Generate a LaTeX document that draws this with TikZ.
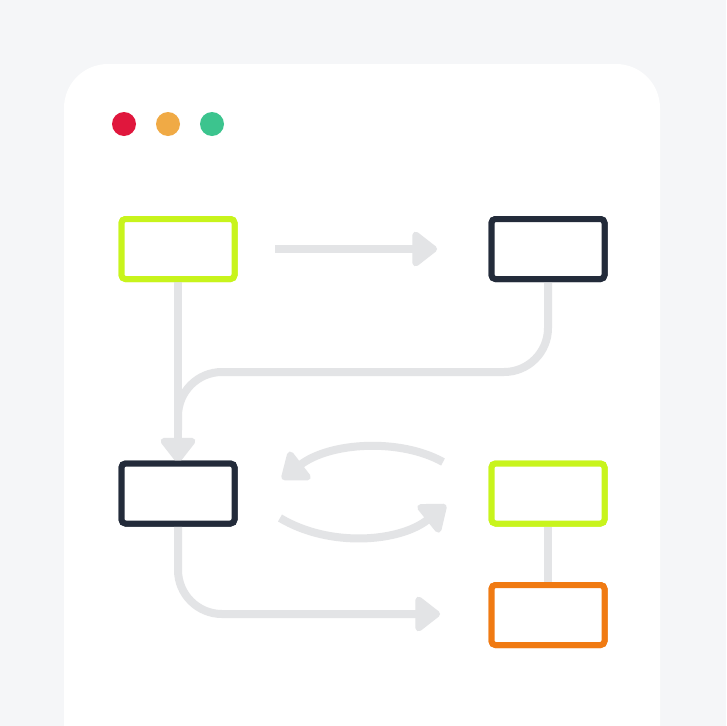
\documentclass[tikz,border=0pt]{standalone}
\usetikzlibrary{arrows.meta}
\definecolor{bg}{HTML}{F5F6F8}
\definecolor{lime}{HTML}{C8F41C}
\definecolor{darkbox}{HTML}{232B3A}
\definecolor{orangebox}{HTML}{F07A12}
\definecolor{conn}{HTML}{E3E4E6}
\definecolor{dotred}{HTML}{E0173D}
\definecolor{dotorange}{HTML}{F0AA45}
\definecolor{dotgreen}{HTML}{3CC48E}
\tikzset{
  box/.style={draw, line width=6pt, rounded corners=4pt, minimum width=113pt, minimum height=60pt, inner sep=0pt, fill=white},
  wire/.style={draw=conn, line width=8pt},
  arr/.style={wire, -{Triangle[width=40pt,length=27pt,round]}},
  dot/.style={circle, inner sep=0pt, minimum size=24pt}
}
\begin{document}
\begin{tikzpicture}[x=1pt,y=-1pt]
\fill[bg] (0,0) rectangle (726,726);
\useasboundingbox (0,0) rectangle (726,726);
\fill[white, rounded corners=44pt] (64,64) rectangle (660,800);
\node[dot, fill=dotred] (r) at (124,124) {};
\node[dot, fill=dotorange] (o) at (168,124) {};
\node[dot, fill=dotgreen] (g) at (212,124) {};
% connector end points
\coordinate (h1) at (275,249);
\coordinate (h2) at (437,249);
\coordinate (j1) at (178,430);
\coordinate (t1) at (443,462);
\coordinate (t2) at (282,479);
\coordinate (b1) at (280,518);
\coordinate (b2) at (446,505);
\coordinate (e1) at (440,614);
\node[box, draw=lime] (A) at (178,249) {};
\node[box, draw=darkbox] (B) at (548,249) {};
\node[box, draw=darkbox] (C) at (178,493.5) {};
\node[box, draw=lime] (D) at (548,493.5) {};
\node[box, draw=orangebox] (E) at (548,615) {};
\path[arr] (h1) -- (h2);
\path[wire, rounded corners=44pt] (B.south) -- (548,372) -- (178,372) -- (j1);
\path[arr] (A.south) -- ([yshift=-2pt]C.north);
\path[arr] (t1) .. controls (400,438) and (330,442) .. (t2);
\path[arr] (b1) .. controls (330,548) and (400,542) .. (b2);
\path[arr, rounded corners=44pt] (C.south) -- (178,614) -- (e1);
\path[wire] (D.south) -- (E.north);
% boxes on top of the connectors
\node[box, draw=lime] at (A) {};
\node[box, draw=darkbox] at (B) {};
\node[box, draw=darkbox] at (C) {};
\node[box, draw=lime] at (D) {};
\node[box, draw=orangebox] at (E) {};
\end{tikzpicture}
\end{document}
